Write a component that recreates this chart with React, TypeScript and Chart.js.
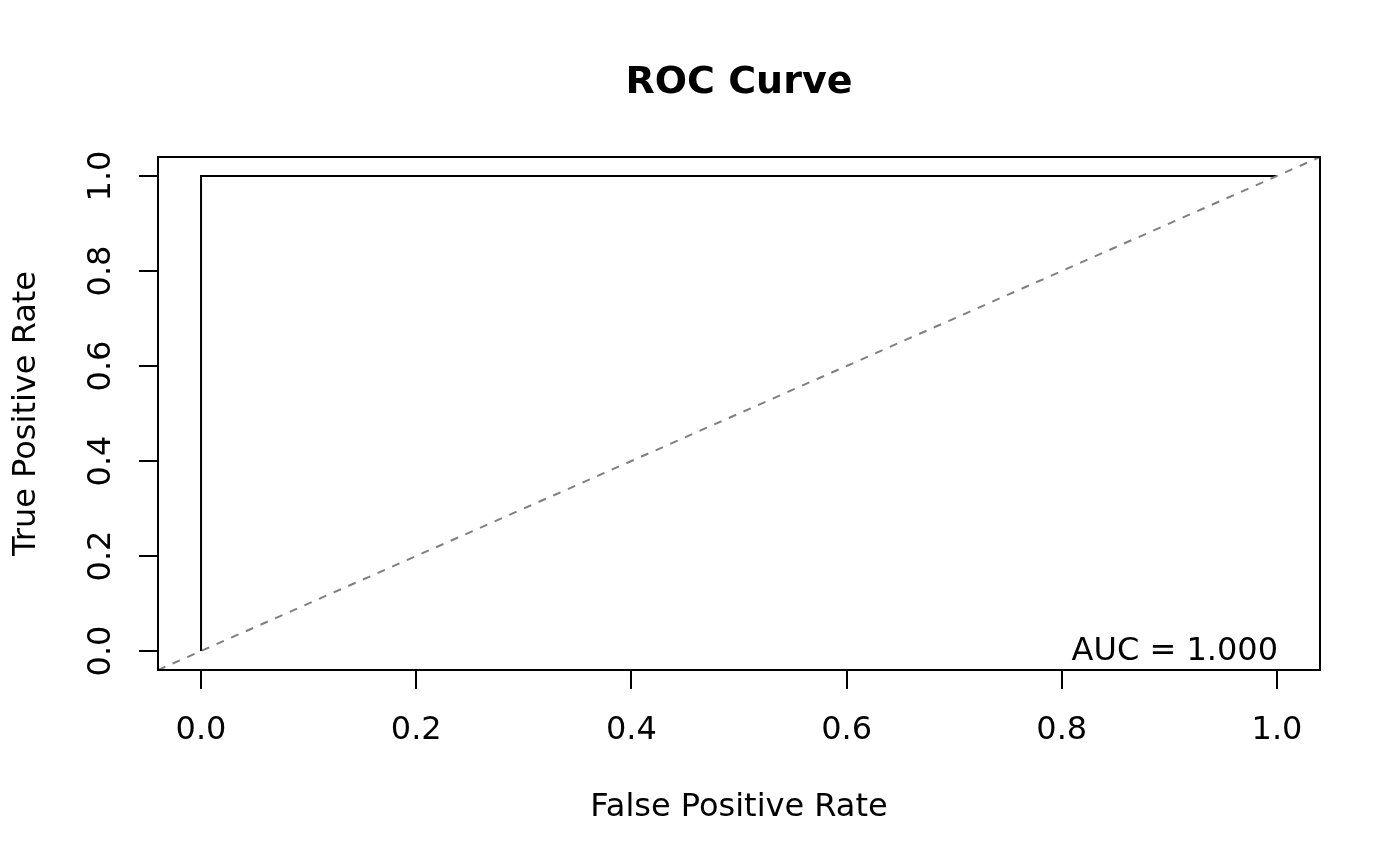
import React, { useEffect, useRef } from "react";
import { Chart, registerables } from "chart.js";

Chart.register(...registerables);

const rocFpr = [0, 0, 1];
const rocTpr = [0, 1, 1];
const diagX = [-0.04, 1.04];
const diagY = [-0.04, 1.04];
const xTicks = [0, 0.2, 0.4, 0.6, 0.8, 1.0];
const yTicks = [0, 0.2, 0.4, 0.6, 0.8, 1.0];
const xTickLabels = ["0.0", "0.2", "0.4", "0.6", "0.8", "1.0"];
const yTickLabels = ["0.0", "0.2", "0.4", "0.6", "0.8", "1.0"];
const titleText = "ROC Curve";
const xTitle = "False Positive Rate";
const yTitle = "True Positive Rate";
const aucText = "AUC = 1.000";

const FONT = '"DejaVu Sans", sans-serif';

const rAxesPlugin = {
  id: "rAxes",
  afterDraw(chart: any) {
    const ctx = chart.ctx as CanvasRenderingContext2D;
    const { left, right, top, bottom } = chart.chartArea;
    const xs = chart.scales.x;
    const ys = chart.scales.y;
    ctx.save();
    ctx.strokeStyle = "#000";
    ctx.fillStyle = "#000";
    ctx.lineWidth = 2;
    ctx.setLineDash([]);
    // box
    ctx.strokeRect(left, top, right - left, bottom - top);
    // x ticks
    const tick = 19;
    ctx.beginPath();
    xTicks.forEach((v) => {
      const px = Math.round(xs.getPixelForValue(v));
      ctx.moveTo(px, bottom);
      ctx.lineTo(px, bottom + tick);
    });
    yTicks.forEach((v) => {
      const py = Math.round(ys.getPixelForValue(v));
      ctx.moveTo(left, py);
      ctx.lineTo(left - tick, py);
    });
    ctx.stroke();
    // tick labels
    ctx.font = `32px ${FONT}`;
    ctx.textAlign = "center";
    ctx.textBaseline = "alphabetic";
    xTicks.forEach((v, i) => {
      ctx.fillText(xTickLabels[i], xs.getPixelForValue(v), 739);
    });
    yTicks.forEach((v, i) => {
      ctx.save();
      ctx.translate(110, ys.getPixelForValue(v));
      ctx.rotate(-Math.PI / 2);
      ctx.fillText(yTickLabels[i], 0, 0);
      ctx.restore();
    });
    // axis titles
    ctx.fillText(xTitle, (left + right) / 2, 816);
    ctx.save();
    ctx.translate(35, (top + bottom) / 2);
    ctx.rotate(-Math.PI / 2);
    ctx.fillText(yTitle, 0, 0);
    ctx.restore();
    // main title
    ctx.font = `bold 38px ${FONT}`;
    ctx.fillText(titleText, (left + right) / 2, 93);
    // AUC text
    ctx.font = `32px ${FONT}`;
    ctx.textAlign = "right";
    ctx.fillText(aucText, right - 42, 660);
    ctx.restore();
  },
};

export default function App() {
  const ref = useRef<HTMLCanvasElement | null>(null);
  useEffect(() => {
    document.body.style.margin = "0";
    const canvas = ref.current;
    if (!canvas) return;
    const chart = new Chart(canvas, {
      type: "scatter",
      data: {
        datasets: [
          {
            label: "Diagonal",
            data: diagX.map((x, i) => ({ x, y: diagY[i] })),
            showLine: true,
            borderColor: "#7f7f7f",
            borderWidth: 2,
            borderDash: [8, 8],
            pointRadius: 0,
            fill: false,
          },
          {
            label: "ROC",
            data: rocFpr.map((x, i) => ({ x, y: rocTpr[i] })),
            showLine: true,
            borderColor: "#000",
            borderWidth: 2,
            pointRadius: 0,
            fill: false,
            tension: 0,
          },
        ],
      },
      options: {
        responsive: false,
        animation: false,
        devicePixelRatio: 1,
        layout: { padding: { left: 158, right: 80, top: 157, bottom: 196 } },
        plugins: {
          legend: { display: false },
          tooltip: { enabled: false },
          title: { display: false },
        },
        scales: {
          x: { type: "linear", min: -0.04, max: 1.04, display: false },
          y: { type: "linear", min: -0.04, max: 1.04, display: false },
        },
      },
      plugins: [rAxesPlugin],
    });
    return () => chart.destroy();
  }, []);
  return <canvas ref={ref} width={1400} height={866} style={{ display: "block" }} />;
}
